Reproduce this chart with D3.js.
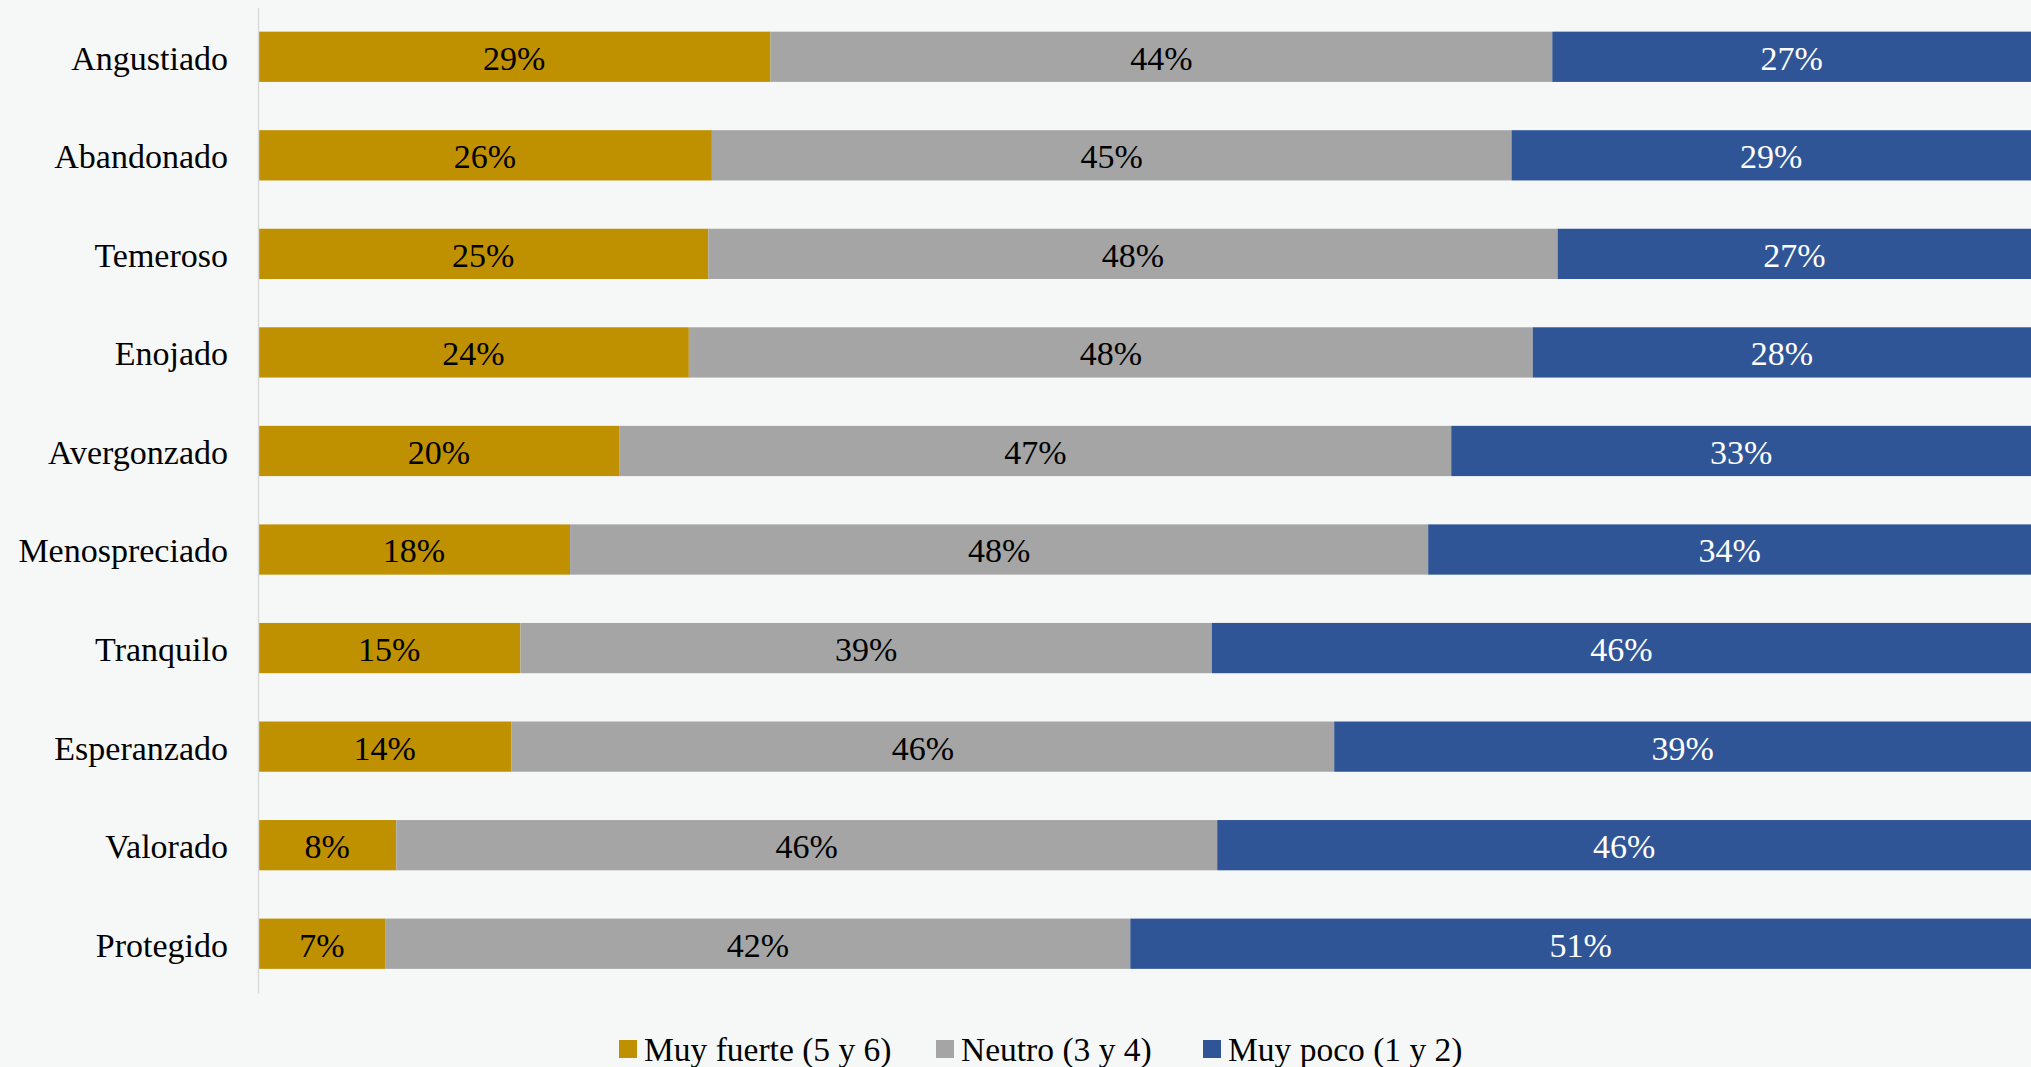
<!DOCTYPE html>
<html>
<head>
<meta charset="utf-8">
<script src="https://cdn.jsdelivr.net/npm/d3@7"></script>
<style>
  html, body { margin: 0; padding: 0; background: #f6f8f7; }
  svg { display: block; }
  text { font-family: "Liberation Serif", "Times New Roman", serif; }
</style>
</head>
<body>
<svg id="chart" width="2031" height="1067"></svg>
<script>
const categories = ["Angustiado","Abandonado","Temeroso","Enojado","Avergonzado","Menospreciado","Tranquilo","Esperanzado","Valorado","Protegido"];
const muyFuerte = [28.9, 25.6, 25.4, 24.3, 20.4, 17.6, 14.8, 14.3, 7.8, 7.2];
const neutro    = [44.1, 45.1, 47.9, 47.6, 46.9, 48.4, 39.0, 46.4, 46.3, 42.0];
const muyPoco   = [27.0, 29.3, 26.7, 28.1, 32.7, 34.0, 46.2, 39.3, 45.9, 50.8];
const seriesNames = ["Muy fuerte (5 y 6)", "Neutro (3 y 4)", "Muy poco (1 y 2)"];
const seriesKeys = ["muyFuerte", "neutro", "muyPoco"];
const colors = ["#bf9000", "#a5a5a5", "#2f5597"];
const labelColors = ["#000000", "#000000", "#ffffff"];

const rows = categories.map((c, i) => ({ cat: c, muyFuerte: muyFuerte[i], neutro: neutro[i], muyPoco: muyPoco[i] }));
const stack = d3.stack().keys(seriesKeys)(rows);

const svg = d3.select("#chart");
const x0 = 258, x1 = 2031;
const x = d3.scaleLinear().domain([0, 100]).range([x0, x1]);
const y = d3.scaleBand().domain(categories).range([7.5, 993]).paddingInner(0.49).paddingOuter(0.245);

const g = svg.append("g");
stack.forEach((layer, si) => {
  const lg = g.append("g");
  lg.selectAll("rect").data(layer).enter().append("rect")
    .attr("x", d => x(d[0]))
    .attr("y", d => y(d.data.cat))
    .attr("width", d => x(d[1]) - x(d[0]))
    .attr("height", y.bandwidth())
    .attr("fill", colors[si]);
  lg.selectAll("text").data(layer).enter().append("text")
    .attr("x", d => (x(d[0]) + x(d[1])) / 2)
    .attr("y", d => y(d.data.cat) + y.bandwidth() / 2)
    .attr("dy", "0.38em")
    .attr("text-anchor", "middle")
    .attr("font-size", 34)
    .attr("fill", labelColors[si])
    .text(d => Math.round(d[1] - d[0]) + "%");
});

const axis = svg.append("g").attr("transform", `translate(${x0},0)`)
  .call(d3.axisLeft(y).tickSize(0).tickPadding(30));
axis.select(".domain").attr("stroke", "#d9d9d9").attr("stroke-width", 1.5);
axis.selectAll("text").attr("font-size", 34).attr("fill", "#000").attr("dy", "0.38em")
  .style("font-family", '"Liberation Serif", serif');

// legend
const legend = svg.append("g");
const lx = [619, 936, 1203];
seriesNames.forEach((name, i) => {
  const it = legend.append("g").attr("transform", `translate(${lx[i]},1049)`);
  it.append("rect").attr("x", 0).attr("y", -9).attr("width", 18).attr("height", 18).attr("fill", colors[i]);
  it.append("text").attr("x", 25).attr("dy", "0.36em").attr("font-size", 33.5).attr("fill", "#000").text(name);
});
</script>
</body>
</html>
